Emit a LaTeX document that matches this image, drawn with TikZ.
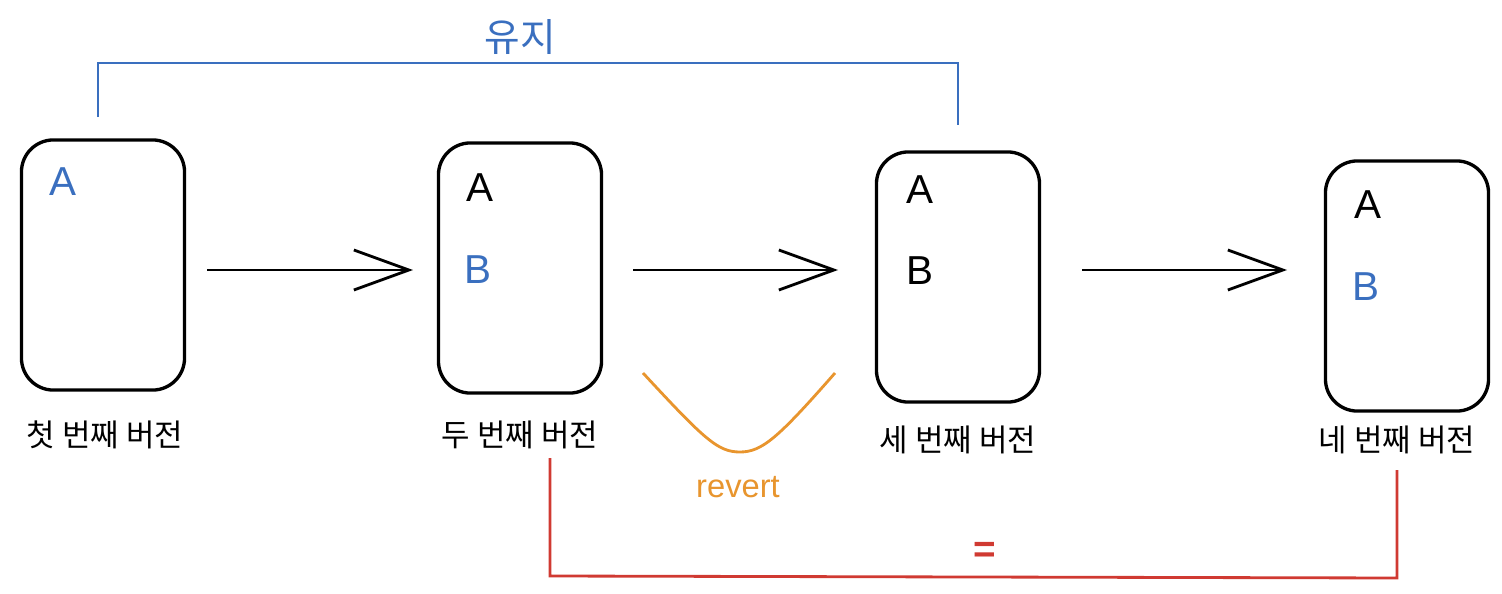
\documentclass[tikz,border=0pt]{standalone}
\usepackage{fontspec}
\setmainfont{Liberation Sans}
\newfontfamily\kr{Noto Sans CJK KR}
\usepackage{tikz}
\usetikzlibrary{arrows.meta,calc}

\definecolor{keepblue}{HTML}{3A6FBF}
\definecolor{revorange}{HTML}{E8952E}
\definecolor{eqred}{HTML}{D03A32}

\tikzset{
	version/.style={draw, line width=0.95pt, rounded corners=0.32cm, minimum width=1.63cm, minimum height=2.5cm},
	item/.style={font=\fontsize{11.5}{13}\selectfont, inner sep=0pt},
	verlabel/.style={font=\kr\fontsize{8.8}{11}\selectfont, inner sep=0pt},
	tip/.style={-{Straight Barb[length=5.5mm, width=4mm, line width=0.8pt]}, line width=0.8pt}
}

\begin{document}
\begin{tikzpicture}[x=0.01cm, y=-0.01cm]
\useasboundingbox (0,0) rectangle (1502,594);
%versions
\node[version] (v1) at (103,265) {};
\node[version] (v2) at (520,268) {};
\node[version] (v3) at (958,277) {};
\node[version] (v4) at (1407,286) {};
%contents
\node[item, keepblue] (a1) at (63,182) {A};
\node[item] (a2) at (480,188) {A};
\node[item, keepblue] (b2) at (478,270) {B};
\node[item] (a3) at (920,190) {A};
\node[item] (b3) at (920,271) {B};
\node[item] (a4) at (1368,205) {A};
\node[item, keepblue] (b4) at (1366,287) {B};
%labels
\node[verlabel] (l1) at (105,435) {첫 번째 버전};
\node[verlabel] (l2) at (520,435) {두 번째 버전};
\node[verlabel] (l3) at (958,440) {세 번째 버전};
\node[verlabel] (l4) at (1397,440) {네 번째 버전};
%arrows
\coordinate (s1) at (207,270); \coordinate (e1) at (413,270);
\coordinate (s2) at (633,270); \coordinate (e2) at (838,270);
\coordinate (s3) at (1082,270); \coordinate (e3) at (1287,270);
\draw[tip] (s1) -- (e1);
\draw[tip] (s2) -- (e2);
\draw[tip] (s3) -- (e3);
%keep
\coordinate (k1) at (98,117);
\coordinate (k2) at (958,125);
\draw[keepblue, line width=0.8pt] (k1) -- (98,63) -- (958,63) -- (k2);
\node[font=\kr\fontsize{11}{13}\selectfont, keepblue, inner sep=0pt] (keep) at (520,37) {유지};
%revert
\coordinate (r1) at (643,373);
\coordinate (r2) at (835,373);
\draw[revorange, line width=0.8pt] (r1) .. controls (705,440) and (718,452) .. (740,452) .. controls (762,452) and (778,438) .. (r2);
\node[font=\fontsize{9.3}{11}\selectfont, revorange, inner sep=0pt] (rev) at (738,487) {revert};
%same
\coordinate (q1) at (550,458);
\coordinate (q2) at (1397,470);
\draw[eqred, line width=0.8pt] (q1) -- (550,576) -- (1397,578) -- (q2);
\node[font=\fontsize{11}{13}\selectfont\bfseries, eqred, inner sep=0pt] (eq) at (985,552) {=};
\end{tikzpicture}
\end{document}
